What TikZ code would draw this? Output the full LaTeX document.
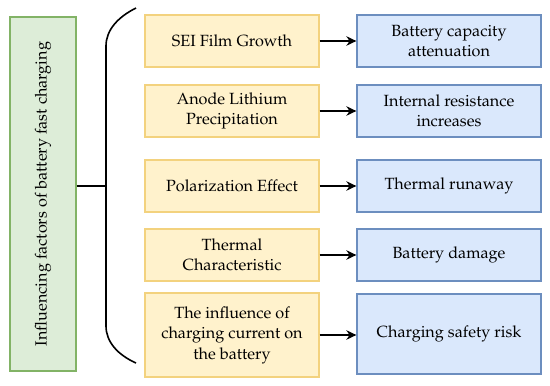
\documentclass[tikz,border=0pt]{standalone}
\usepackage[T1]{fontenc}
\renewcommand{\rmdefault}{ppl}
\usetikzlibrary{arrows.meta}
\definecolor{yfill}{HTML}{FFF2CC}
\definecolor{ydraw}{HTML}{F3D27E}
\definecolor{bfill}{HTML}{DAE8FC}
\definecolor{bdraw}{HTML}{6C8EBF}
\definecolor{gfill}{HTML}{DDEDD8}
\definecolor{gdraw}{HTML}{82B366}
\tikzset{
  txt/.style={font=\fontsize{16.2}{20.5}\selectfont},
  ybox/.style={txt, draw=ydraw, fill=yfill, line width=1.3pt, minimum width=174pt, inner sep=0pt, align=center},
  bbox/.style={txt, draw=bdraw, fill=bfill, line width=1.3pt, minimum width=184pt, inner sep=0pt, align=center},
  arr/.style={line width=1.7pt, -{Stealth[length=10pt,width=9.5pt]}},
}
\begin{document}
\begin{tikzpicture}[x=1pt,y=-1pt]
\useasboundingbox (0,0) rectangle (550,386);
\node[draw=gdraw, fill=gfill, line width=1.3pt, minimum width=66pt, minimum height=354pt, inner sep=0pt] (g) at (43,194) {};
\node[txt, rotate=90] (gt) at (43,194) {Influencing factors of battery fast charging};

\node[ybox, minimum height=52pt] (y1) at (232,41) {SEI Film Growth};
\node[ybox, minimum height=52pt] (y2) at (232,111) {Anode Lithium\\Precipitation};
\node[ybox, minimum height=52pt] (y3) at (232,186) {Polarization Effect};
\node[ybox, minimum height=52pt] (y4) at (232,255) {Thermal\\Characteristic};
\node[ybox, minimum height=84pt] (y5) at (232,335) {The influence of\\charging current on\\the battery};

\node[bbox, minimum height=52pt] (b1) at (449,41) {Battery capacity\\attenuation};
\node[bbox, minimum height=52pt] (b2) at (449,111) {Internal resistance\\increases};
\node[bbox, minimum height=52pt] (b3) at (449,186) {Thermal runaway};
\node[bbox, minimum height=52pt] (b4) at (449,255) {Battery damage};
\node[bbox, minimum height=80pt] (b5) at (449,334) {Charging safety risk};

\foreach \i in {1,...,5} { \draw[arr] (y\i.east) -- (y\i.east -| b\i.west); }

\coordinate (bt) at (136,8);
\coordinate (bb) at (136,363);
\coordinate (bm) at (106,186);
\draw[line width=1.6pt] (bt) .. controls (118,17) and (106,30) .. (106,46) -- (106,326) .. controls (106,342) and (118,355) .. (bb);
\draw[line width=1.6pt] (g.east |- bm) -- (bm);
\end{tikzpicture}
\end{document}
